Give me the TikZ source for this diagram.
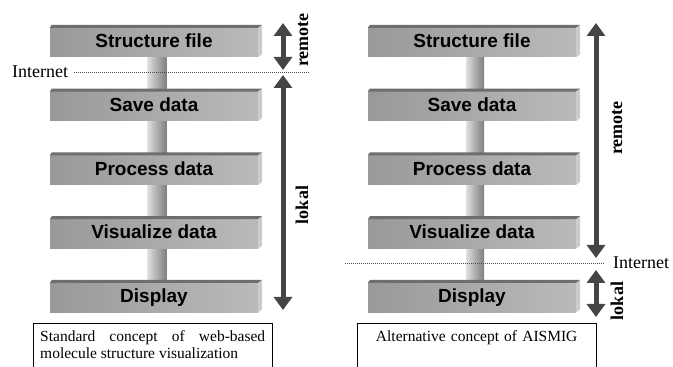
\documentclass[tikz,border=0pt]{standalone}
\usepackage{fontspec}
\setmainfont{Liberation Serif}
\setsansfont{Liberation Sans}
\usetikzlibrary{arrows.meta,positioning,backgrounds}

\pgfdeclarehorizontalshading{pillarshade}{100bp}{rgb(0bp)=(.38,.38,.38); rgb(22bp)=(.9,.9,.9); rgb(50bp)=(.68,.68,.68); rgb(100bp)=(.32,.32,.32)}

\begin{document}
\begin{tikzpicture}[
  x=1pt, y=1pt,
  node distance=34.4pt,
  layer/.style={minimum width=208pt, minimum height=29pt, inner sep=0pt,
                left color=black!40, right color=black!27,
                font=\fontsize{19}{22}\selectfont\bfseries\sffamily,
                text height=14pt, text depth=4pt},
  topface/.style={fill=black!57},
  sideface/.style={fill=black!20},
  dblarr/.style={{Triangle[width=18pt,length=13pt]}-{Triangle[width=18pt,length=13pt]},
                 line width=5pt, draw=black!73},
  lbl/.style={font=\fontsize{18}{21}\selectfont\bfseries, rotate=90,
              anchor=base, inner sep=0pt},
  net/.style={font=\fontsize{18}{21}\selectfont, inner sep=0pt},
  netline/.style={draw=black!70, line width=0.8pt, dash pattern=on 1pt off 1pt},
  captext/.style={anchor=north west, inner xsep=7pt, inner ysep=0pt,
                  text width=225pt, font=\fontsize{15.5}{17}\selectfont},
  capframe/.style={draw, line width=0.8pt},
]
\useasboundingbox (0,0) rectangle (673,367);

% standard concept
\node[layer] (lsf) at (154,324.5) {Structure file};
\node[layer, below=of lsf]   (lsave) {Save data};
\node[layer, below=of lsave] (lproc) {Process data};
\node[layer, below=of lproc] (lvis)  {Visualize data};
\node[layer, below=of lvis]  (ldisp) {Display};

% alternative concept
\node[layer] (rsf) at (472,324.5) {Structure file};
\node[layer, below=of rsf]   (rsave) {Save data};
\node[layer, below=of rsave] (rproc) {Process data};
\node[layer, below=of rproc] (rvis)  {Visualize data};
\node[layer, below=of rvis]  (rdisp) {Display};

\begin{scope}[on background layer]
  \shade[shading=pillarshade] ([xshift=-6.5pt]lsf.south) rectangle ([xshift=12.5pt]ldisp.north);
  \shade[shading=pillarshade] ([xshift=-6pt]rsf.south) rectangle ([xshift=12pt]rdisp.north);
\end{scope}

\foreach \b in {lsf,lsave,lproc,lvis,ldisp,rsf,rsave,rproc,rvis,rdisp} {
  \fill[topface] (\b.north west) -- ++(2pt,3pt) -- ([shift={(4pt,3pt)}]\b.north east)
    -- (\b.north east) -- cycle;
  \fill[sideface] (\b.north east) -- ++(4pt,3pt) -- ([shift={(4pt,3pt)}]\b.south east)
    -- (\b.south east) -- cycle;
}

% internet borders
\node[net, anchor=base west] (inetL) at (12,289) {Internet};
\coordinate (netLend) at (310,0);
\draw[netline] ([xshift=6pt]inetL.east) -- (inetL.east -| netLend);

\node[net, anchor=base west] (inetR) at (613,98) {Internet};
\coordinate (netRstart) at (345,0);
\draw[netline] (inetR.west -| netRstart) -- ([xshift=-8pt]inetR.west);

% remote / lokal arrows
\coordinate (lrTop) at (283,344);
\coordinate (lrBot) at (283,297);
\coordinate (llTop) at (283,292);
\coordinate (llBot) at (283,57);
\draw[dblarr] (lrTop) -- (lrBot);
\draw[dblarr] (llTop) -- (llBot);
\node[lbl] (lremote) at (308,327) {remote};
\node[lbl] (llokal)  at (308,162) {lokal};

\coordinate (rrTop) at (596,344);
\coordinate (rrBot) at (596,109);
\coordinate (rlTop) at (596,97);
\coordinate (rlBot) at (596,50);
\draw[dblarr] (rrTop) -- (rrBot);
\draw[dblarr] (rlTop) -- (rlBot);
\node[lbl] (rremote) at (622,239) {remote};
\node[lbl] (rlokal)  at (623,66)  {lokal};

% captions, boxes run on below the page
\coordinate (capBot) at (0,-10);
\node[captext, align=justify] (capL) at (33,44)
  {\rule{0pt}{18pt}Standard concept of web-based\linebreak molecule structure visualization};
\node[captext, align=center] (capR) at (357,44)
  {\rule{0pt}{18pt}Alternative concept of AISMIG};
\draw[capframe] (capL.north west |- capBot) -- (capL.north west) -- (capL.north east)
  -- (capL.north east |- capBot);
\draw[capframe] (capR.north west |- capBot) -- (capR.north west) -- (capR.north east)
  -- (capR.north east |- capBot);
\end{tikzpicture}
\end{document}
